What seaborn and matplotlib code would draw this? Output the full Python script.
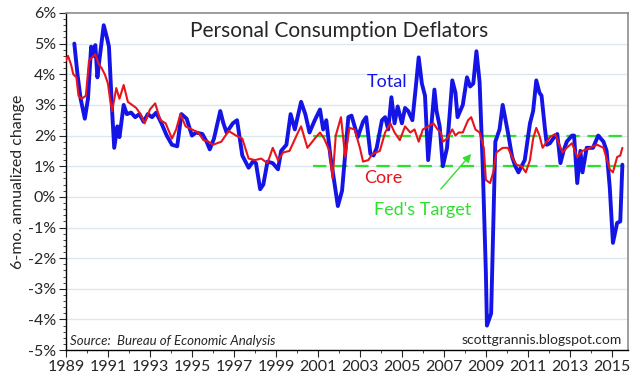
import numpy as np
import pandas as pd
import seaborn as sns
import matplotlib.pyplot as plt
from matplotlib.ticker import MultipleLocator, FuncFormatter

# PCE deflator, 6-month annualized change (%)
total_years = [1989.40, 1989.55, 1989.70, 1989.90, 1990.05, 1990.20, 1990.30, 1990.40, 1990.50, 1990.60,
               1990.80, 1990.95, 1991.05, 1991.20, 1991.30, 1991.45, 1991.55, 1991.75, 1991.90, 1992.10,
               1992.30, 1992.50, 1992.70, 1992.90, 1993.10, 1993.30, 1993.55, 1993.80, 1994.05, 1994.30,
               1994.50, 1994.75, 1995.00, 1995.20, 1995.50, 1995.70, 1995.85, 1996.05, 1996.20, 1996.35,
               1996.50, 1996.65, 1996.95, 1997.15, 1997.40, 1997.70, 1997.90, 1998.05, 1998.25, 1998.40,
               1998.60, 1998.85, 1999.10, 1999.25, 1999.50, 1999.70, 1999.90, 2000.20, 2000.40, 2000.60,
               2000.85, 2001.10, 2001.25, 2001.40, 2001.60, 2001.80, 2001.95, 2002.15, 2002.45, 2002.60,
               2002.90, 2003.15, 2003.30, 2003.50, 2003.65, 2003.80, 2004.05, 2004.20, 2004.35, 2004.50,
               2004.65, 2004.80, 2005.00, 2005.15, 2005.30, 2005.50, 2005.65, 2005.80, 2005.95, 2006.10,
               2006.25, 2006.40, 2006.55, 2006.65, 2006.80, 2006.95, 2007.15, 2007.40, 2007.55, 2007.65,
               2007.90, 2008.10, 2008.25, 2008.40, 2008.55, 2008.70, 2008.85, 2009.00, 2009.05, 2009.25,
               2009.45, 2009.65, 2009.80, 2010.05, 2010.25, 2010.40, 2010.55, 2010.85, 2011.10, 2011.25,
               2011.40, 2011.55, 2011.65, 2011.80, 2011.90, 2012.05, 2012.20, 2012.40, 2012.55, 2012.70,
               2012.85, 2013.10, 2013.20, 2013.35, 2013.50, 2013.60, 2013.80, 2014.10, 2014.35, 2014.60,
               2014.75, 2014.90, 2015.05, 2015.25, 2015.40, 2015.50]
total_vals = [5.0, 4.0, 3.2, 2.55, 3.2, 4.9, 4.6, 4.95, 3.9, 4.5,
              5.6, 5.2, 4.9, 2.8, 1.6, 2.3, 1.95, 3.0, 2.7, 2.75,
              2.6, 2.7, 2.45, 2.7, 2.6, 2.75, 2.4, 2.0, 1.7, 1.65,
              2.7, 2.55, 2.0, 2.1, 2.05, 1.8, 1.55, 1.9, 2.35, 2.8,
              2.4, 2.1, 2.4, 2.5, 1.35, 0.95, 1.15, 1.1, 0.25, 0.4,
              1.15, 1.1, 0.9, 1.5, 1.7, 2.7, 2.2, 3.1, 2.7, 2.1,
              2.5, 2.85, 2.2, 2.5, 1.3, 0.4, -0.3, 0.2, 2.6, 2.65,
              1.95, 2.45, 2.6, 1.4, 1.35, 1.6, 2.5, 2.6, 2.2, 3.25,
              2.4, 2.95, 2.4, 2.9, 2.8, 2.5, 3.5, 4.55, 3.7, 3.3,
              1.2, 2.3, 3.5, 2.8, 2.3, 1.0, 1.6, 3.8, 3.4, 2.6,
              3.0, 3.9, 3.6, 3.7, 4.75, 3.75, 1.0, -2.5, -4.2, -3.8,
              1.8, 2.2, 3.0, 2.1, 1.3, 1.0, 0.8, 1.2, 2.4, 2.8,
              3.8, 3.4, 3.3, 2.3, 1.7, 1.75, 1.9, 2.05, 1.1, 1.5,
              1.8, 2.0, 2.0, 0.45, 1.5, 0.8, 1.6, 1.6, 2.0, 1.8,
              1.5, 0.3, -1.5, -0.85, -0.8, 1.05]

core_years = [1989.00, 1989.10, 1989.25, 1989.35, 1989.50, 1989.60, 1989.75, 1989.95, 1990.10, 1990.25,
              1990.40, 1990.55, 1990.70, 1990.85, 1991.00, 1991.10, 1991.20, 1991.40, 1991.55, 1991.75,
              1991.95, 1992.15, 1992.35, 1992.55, 1992.75, 1993.00, 1993.25, 1993.50, 1993.75, 1994.05,
              1994.25, 1994.45, 1994.70, 1995.00, 1995.30, 1995.55, 1995.80, 1996.00, 1996.40, 1996.75,
              1997.10, 1997.40, 1997.70, 1998.00, 1998.30, 1998.60, 1998.85, 1999.10, 1999.35, 1999.65,
              1999.85, 2000.05, 2000.20, 2000.50, 2000.85, 2001.10, 2001.30, 2001.55, 2001.70, 2001.85,
              2002.10, 2002.30, 2002.50, 2002.75, 2003.00, 2003.15, 2003.40, 2003.60, 2003.95, 2004.20,
              2004.45, 2004.65, 2004.90, 2005.15, 2005.40, 2005.60, 2005.80, 2006.00, 2006.25, 2006.50,
              2006.70, 2006.85, 2006.95, 2007.15, 2007.40, 2007.55, 2007.70, 2007.90, 2008.15, 2008.30,
              2008.50, 2008.70, 2008.90, 2009.00, 2009.20, 2009.35, 2009.50, 2009.80, 2010.05, 2010.25,
              2010.45, 2010.70, 2010.90, 2011.10, 2011.25, 2011.40, 2011.55, 2011.70, 2011.90, 2012.05,
              2012.30, 2012.45, 2012.65, 2012.85, 2013.10, 2013.35, 2013.60, 2013.95, 2014.30, 2014.60,
              2014.90, 2015.05, 2015.25, 2015.40, 2015.50]
core_vals = [4.45, 4.6, 4.3, 4.0, 3.9, 3.3, 3.2, 3.3, 4.45, 4.55,
             4.65, 4.35, 4.2, 4.0, 3.7, 3.2, 2.8, 3.55, 3.2, 3.65,
             3.1, 3.0, 2.9, 2.7, 2.4, 2.85, 3.05, 2.5, 2.4, 1.9,
             2.2, 2.7, 2.3, 2.2, 2.1, 1.85, 1.8, 1.7, 1.8, 2.15,
             2.0, 1.9, 1.25, 1.2, 1.25, 1.1, 1.6, 1.2, 1.45, 1.5,
             1.8, 2.1, 2.3, 1.6, 1.9, 2.1, 1.9, 1.5, 0.6, 2.0,
             2.6, 1.3, 2.25, 2.2, 1.6, 1.15, 1.2, 1.4, 1.5, 2.1,
             2.4, 2.1, 1.85, 2.3, 2.1, 2.2, 1.8, 2.2, 2.3, 2.4,
             2.2, 2.1, 1.8, 1.9, 2.2, 2.0, 2.1, 2.1, 2.5, 2.6,
             2.2, 2.1, 1.6, 0.55, 0.45, 0.8, 1.45, 1.6, 1.6, 1.3,
             1.05, 1.0, 0.8, 1.2, 1.9, 2.25, 2.0, 1.6, 1.8, 1.95,
             2.05, 1.8, 1.45, 1.6, 1.75, 1.3, 1.5, 1.6, 1.7, 1.6,
             0.9, 0.8, 1.3, 1.35, 1.6]

# Fed's target band
target_levels = [1, 2]
target_start = 2000.75

x_ticks = list(range(1989, 2016, 2))

BLUE = "#1414e6"
RED = "#e8141c"
GREEN = "#2ee02e"

sns.set_style("ticks")
plt.rcParams["font.family"] = ["Lato", "DejaVu Sans"]

total = pd.DataFrame({"year": total_years, "pct": total_vals})
core = pd.DataFrame({"year": core_years, "pct": core_vals})

fig = plt.figure(figsize=(6.4, 3.81), dpi=100)
ax = fig.add_axes([0.103, 0.081, 0.878, 0.885])

x_max = 2015.76
ax.set_xlim(1989, x_max)
ax.set_ylim(-5, 6)

for lvl in range(-4, 6):
    ax.axhline(lvl, color="#dce6ee", lw=1.0, zorder=0)

ax.hlines(target_levels, target_start, x_max, colors=GREEN, lw=1.6,
          linestyles=(0, (6, 3.5)), zorder=1)

sns.lineplot(data=total, x="year", y="pct", ax=ax, color=BLUE, lw=2.8,
             estimator=None, zorder=2)
sns.lineplot(data=core, x="year", y="pct", ax=ax, color=RED, lw=1.5,
             estimator=None, zorder=3)

ax.set_xticks(x_ticks)
ax.xaxis.set_minor_locator(MultipleLocator(1))
ax.yaxis.set_major_locator(MultipleLocator(1))
ax.yaxis.set_minor_locator(MultipleLocator(0.2))
ax.yaxis.set_major_formatter(FuncFormatter(lambda v, p: f"{v:.0f}%"))
ax.tick_params(axis="both", which="major", labelsize=11.5, length=5, width=0.8,
               direction="out", pad=2)
ax.tick_params(axis="both", which="minor", length=2.5, width=0.6, direction="out")
ax.set_xlabel("")
ax.set_ylabel("6-mo. annualized change", fontsize=11.5, labelpad=2)

for side in ["top", "right"]:
    ax.spines[side].set_color("#8c8c8c")
    ax.spines[side].set_linewidth(1.2)
for side in ["left", "bottom"]:
    ax.spines[side].set_color("black")
    ax.spines[side].set_linewidth(1.0)

ax.text(0.486, 0.945, "Personal Consumption Deflators", transform=ax.transAxes,
        ha="center", va="center", fontsize=15)
ax.text(2004.3, 3.75, "Total", color=BLUE, fontsize=13, ha="center", va="center")
ax.text(2004.1, 0.62, "Core", color=RED, fontsize=13, ha="center", va="center")
ax.annotate("Fed's Target", xy=(2008.3, 1.4), xytext=(2006.0, -0.42),
            color=GREEN, fontsize=13, ha="center", va="center",
            arrowprops=dict(arrowstyle="-|>", color=GREEN, lw=1.0,
                            shrinkA=9, shrinkB=0, mutation_scale=12))
ax.text(0.008, 0.028, "Source:  Bureau of Economic Analysis", transform=ax.transAxes,
        ha="left", va="center", fontsize=9.5, style="italic")
ax.text(0.99, 0.03, "scottgrannis.blogspot.com", transform=ax.transAxes,
        ha="right", va="center", fontsize=10)

fig.savefig("out.png", dpi=100)
